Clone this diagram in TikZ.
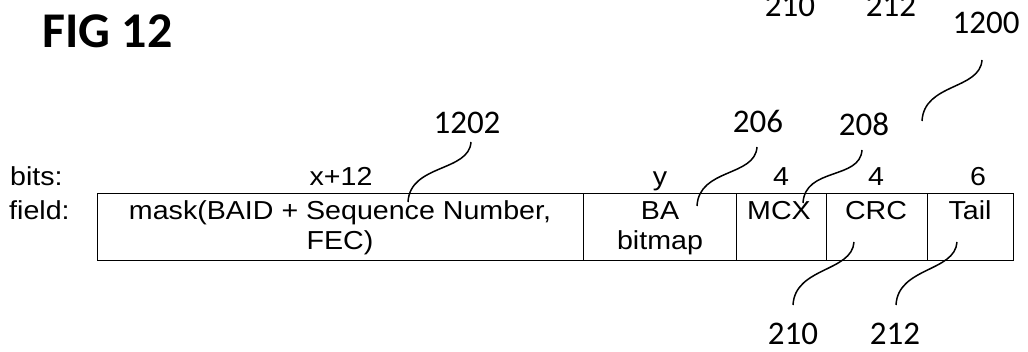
\documentclass[tikz,border=0pt]{standalone}
\usepackage{fontspec}
\newfontfamily\arialx[FakeStretch=1.1]{Liberation Sans}
\newfontfamily\calib{Carlito}
\begin{document}
\begin{tikzpicture}[x=1pt,y=-1pt,
  cell/.style={draw, line width=1.1pt, inner sep=0pt, minimum height=67pt, anchor=north west},
  ftxt/.style={font=\arialx\fontsize{26}{30}\selectfont, inner sep=0pt, anchor=base},
  num/.style={font=\calib\fontsize{33}{38}\selectfont, inner sep=0pt, anchor=base},
  lead/.style={line width=1.5pt}]
\useasboundingbox (0,0) rectangle (1028,352);
% title
\node[font=\calib\bfseries\fontsize{50}{56}\selectfont, inner sep=0pt, anchor=base west] (fig) at (42,48) {FIG 12};
% table cells
\node[cell, minimum width=486pt] (c1) at (97,193) {};
\node[cell, minimum width=153pt] (c2) at (583,193) {};
\node[cell, minimum width=90pt] (c3) at (736,193) {};
\node[cell, minimum width=101pt] (c4) at (826,193) {};
\node[cell, minimum width=86pt] (c5) at (927,193) {};
% row labels
\node[ftxt, anchor=base west] (bits) at (10,186) {bits:};
\node[ftxt, anchor=base west] (field) at (9,220) {field:};
% bit counts
\node[ftxt] (b1) at (341,186) {x+12};
\node[ftxt] (b2) at (660,186) {y};
\node[ftxt] (b3) at (781,186) {4};
\node[ftxt] (b4) at (876,186) {4};
\node[ftxt] (b5) at (978,186) {6};
% field texts
\node[ftxt] (t1a) at (340,220) {mask(BAID + Sequence Number,};
\node[ftxt] (t1b) at (340,250) {FEC)};
\node[ftxt] (t2a) at (660,220) {BA};
\node[ftxt] (t2b) at (660,250) {bitmap};
\node[ftxt] (t3) at (779,220) {MCX};
\node[ftxt] (t4) at (876,220) {CRC};
\node[ftxt] (t5) at (970,220) {Tail};
% reference numerals
\node[num] (n1202) at (467,134) {1202};
\node[num] (n206) at (758,133) {206};
\node[num] (n208) at (864,136) {208};
\node[num] (n1200) at (986,34) {1200};
\node[num] (n210t) at (790,17) {210};
\node[num] (n212t) at (891,17) {212};
\node[num] (n210) at (793,345) {210};
\node[num] (n212) at (895,345) {212};
% leader end points
\coordinate (a1202) at (471,142); \coordinate (e1202) at (408,202);
\coordinate (a206) at (757,147);  \coordinate (e206) at (697,206);
\coordinate (a208) at (862,150);  \coordinate (e208) at (803,203);
\coordinate (a1200) at (982,60);  \coordinate (e1200) at (922,121);
\coordinate (a210) at (854,242);  \coordinate (e210) at (793,305);
\coordinate (a212) at (957,242);  \coordinate (e212) at (896,305);
% leaders
\draw[lead] (a1202) .. controls +(-2,30) and +(2,-38) .. (e1202);
\draw[lead] (a206) .. controls +(-2,30) and +(2,-38) .. (e206);
\draw[lead] (a208) .. controls +(-2,30) and +(2,-36) .. (e208);
\draw[lead] (a1200) .. controls +(-2,30) and +(2,-38) .. (e1200);
\draw[lead] (a210) .. controls +(-2,30) and +(2,-38) .. (e210);
\draw[lead] (a212) .. controls +(-2,30) and +(2,-38) .. (e212);
\end{tikzpicture}
\end{document}
